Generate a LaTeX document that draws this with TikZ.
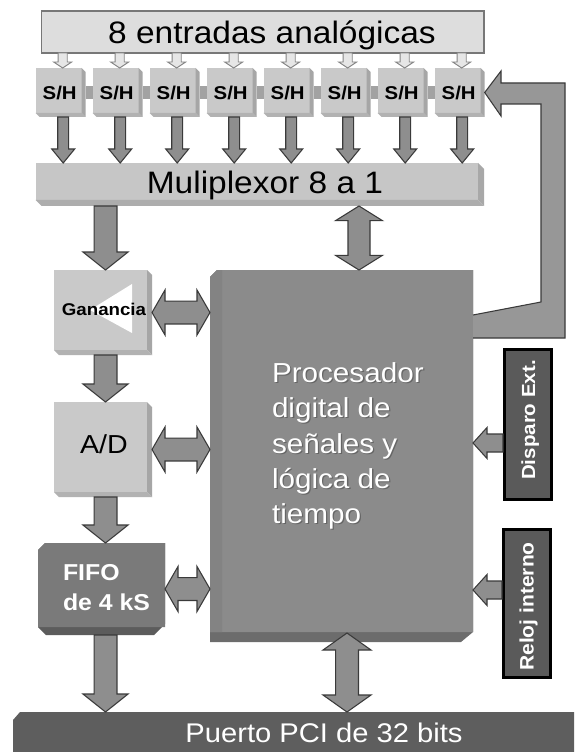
\documentclass[tikz,border=0pt]{standalone}
\usepackage{graphicx}
\usepackage{fontspec}
\setmainfont{Liberation Sans}
\usetikzlibrary{calc}
\definecolor{topfill}{HTML}{DDDDDD}
\definecolor{topline}{HTML}{777777}
\definecolor{shface}{HTML}{C9C9C9}
\definecolor{shside}{HTML}{A6A6A6}
\definecolor{shbot}{HTML}{B2B2B2}
\definecolor{muxface}{HTML}{C6C6C6}
\definecolor{muxside}{HTML}{A8A8A8}
\definecolor{muxbot}{HTML}{ADADAD}
\definecolor{procface}{HTML}{8B8B8B}
\definecolor{procleft}{HTML}{838383}
\definecolor{procbot}{HTML}{6C6C6C}
\definecolor{fifoface}{HTML}{7A7A7A}
\definecolor{fifobot}{HTML}{5C5C5C}
\definecolor{pcifill}{HTML}{5E5E5E}
\definecolor{dispfill}{HTML}{5A5A5A}
\definecolor{arrfill}{HTML}{8E8E8E}
\definecolor{arrline}{HTML}{3A3A3A}
\definecolor{fbfill}{HTML}{979797}
\definecolor{hollowfill}{HTML}{E6E6E6}
\definecolor{hollowline}{HTML}{858585}
\definecolor{barc}{HTML}{A2A2A2}
\definecolor{shadowc}{HTML}{666666}
\newcommand\fsz[1]{\fontsize{#1}{#1}\selectfont}
% light 3D box: x1 y1 x2 y2 bevel face side bottom
\newcommand\lbox[8]{%
 \fill[#6] (#1,#2) -- ({#3-#5},#2) -- ({#3-#5},{#4-#5}) -- (#1,{#4-#5}) -- cycle;
 \fill[#7] ({#3-#5},#2) -- (#3,{#2+#5}) -- (#3,#4) -- ({#3-#5},{#4-#5}) -- cycle;
 \fill[#8] (#1,{#4-#5}) -- ({#3-#5},{#4-#5}) -- (#3,#4) -- ({#1+#5},#4) -- cycle;}
\newcommand\areanode[5]{\node[inner sep=0pt,outer sep=0pt,minimum width={(#4-#2)*0.75pt},minimum height={(#5-#3)*0.75pt}] (#1) at ({(#2+#4)/2},{(#3+#5)/2}) {};}
% down arrow: style, from, to, shaft half, head half, head length
\newcommand\downarr[6]{\path[#1] let \p1=(#2), \p2=(#3) in
 (\x1-#4,\y1) -- (\x1-#4,\y2+#6) -- (\x1-#5,\y2+#6) -- (\x1,\y2) -- (\x1+#5,\y2+#6) -- (\x1+#4,\y2+#6) -- (\x1+#4,\y1) -- cycle;}
% vertical double arrow: style, top, bottom, shaft half, head half, head length
\newcommand\vdarr[6]{\path[#1] let \p1=(#2), \p2=(#3) in
 (\x1,\y1) -- (\x1+#5,\y1-#6) -- (\x1+#4,\y1-#6) -- (\x1+#4,\y2+#6) -- (\x1+#5,\y2+#6) -- (\x1,\y2)
 -- (\x1-#5,\y2+#6) -- (\x1-#4,\y2+#6) -- (\x1-#4,\y1-#6) -- (\x1-#5,\y1-#6) -- cycle;}
% horizontal double arrow: style, left, right, shaft half, head half, head length
\newcommand\hdarr[6]{\path[#1] let \p1=(#2), \p2=(#3) in
 (\x1,\y1) -- (\x1+#6,\y1+#5) -- (\x1+#6,\y1+#4) -- (\x2-#6,\y1+#4) -- (\x2-#6,\y1+#5) -- (\x2,\y1)
 -- (\x2-#6,\y1-#5) -- (\x2-#6,\y1-#4) -- (\x1+#6,\y1-#4) -- (\x1+#6,\y1-#5) -- cycle;}
% left arrow: style, source (right), tip (left), shaft half, head half, head length
\newcommand\leftarr[6]{\path[#1] let \p1=(#2), \p2=(#3) in
 (\x1,\y1+#4) -- (\x2+#6,\y1+#4) -- (\x2+#6,\y1+#5) -- (\x2,\y1) -- (\x2+#6,\y1-#5) -- (\x2+#6,\y1-#4) -- (\x1,\y1-#4) -- cycle;}
\begin{document}
\begin{tikzpicture}[x=0.75pt,y=-0.75pt,
  blk/.style={fill=arrfill,draw=arrline,line width=0.8pt,line join=miter},
  hollow/.style={fill=hollowfill,draw=hollowline,line width=0.7pt,line join=miter},
  txt/.style={inner sep=0pt,outer sep=0pt},
  wtxt/.style={inner sep=0pt,outer sep=0pt,text=white},
  stxt/.style={inner sep=0pt,outer sep=0pt,text=shadowc}]
\fill[white] (0,0) rectangle (574,752);
\useasboundingbox (0,0) rectangle (574,752);

% ---------- top input box
\filldraw[fill=topfill,draw=topline,line width=0.8pt] (41.7,11) rectangle (484,53);
\areanode{top}{41.7}{11}{484}{53}
\node[txt,anchor=base] (toptxt) at (272,43.3) {\fsz{23.25pt}\scalebox{1.08}[1]{8 entradas analógicas}};

% ---------- S/H boxes
\foreach \k in {1,...,8}{
  \pgfmathsetmacro\xa{35.7+57*(\k-1)}
  \pgfmathsetmacro\xb{\xa+50}
  \lbox{\xa}{68}{\xb}{117}{4}{shface}{shside}{shbot}
  \areanode{sh\k}{\xa}{68}{\xb}{117}
  \node[txt,anchor=base] (sht\k) at ({\xa+24},100) {\bfseries\fsz{13.9pt}\scalebox{1.1}[1]{S/H}};
}
\foreach \k [evaluate=\k as \kk using int(\k+1)] in {1,...,7}{
  \fill[barc] let \p1=(sh\k.east), \p2=(sh\kk.west) in (\x1,\y1+4.9pt) rectangle (\x2,\y1-4.9pt);
}

% ---------- multiplexer
\lbox{35.7}{163}{484}{206}{6}{muxface}{muxside}{muxbot}
\areanode{mux}{35.7}{163}{484}{206}
\node[txt,anchor=base] (muxtxt) at (265,193.3) {\fsz{23.25pt}\scalebox{1.08}[1]{Muliplexor 8 a 1}};

% ---------- gain
\lbox{54}{270}{152}{355}{5}{shface}{shside}{shbot}
\areanode{gain}{54}{270}{152}{355}
\fill[white] (90,310) -- (132,284) -- (132,333) -- cycle;
\node[txt,anchor=base] (gaintxt) at (104,315.7) {\bfseries\fsz{12.75pt}\scalebox{1.1}[1]{Ganancia}};

% ---------- A/D
\lbox{54}{402}{152}{497}{5}{shface}{shside}{shbot}
\areanode{ad}{54}{402}{152}{497}
\node[txt,anchor=base] (adtxt) at (104,453.3) {\fsz{19.5pt}\scalebox{1.1}[1]{A/D}};

% ---------- FIFO
\fill[fifobot] (38,550) -- (45,543) -- (165,543) -- (165,624) -- (154,635) -- (46,635) -- (38,627) -- cycle;
\fill[fifoface] (38,550) -- (45,543) -- (165,543) -- (165,627) -- (38,627) -- cycle;
\areanode{fifo}{38}{543}{165}{635}
\node[wtxt,anchor=base west] (fifot1) at (63,580) {\bfseries\fsz{17.25pt}\scalebox{1.08}[1]{FIFO}};
\node[wtxt,anchor=base west] (fifot2) at (63,610) {\bfseries\fsz{17.25pt}\scalebox{1.08}[1]{de 4 kS}};

% ---------- processor
\fill[procbot] (210,277) -- (217,270) -- (473,270) -- (473,632) -- (461,642) -- (210,642) -- cycle;
\fill[procface] (210,277) -- (217,270) -- (473,270) -- (473,632) -- (210,632) -- cycle;
\fill[procleft] (210,277) -- (217,270) -- (222,270) -- (222,632) -- (210,632) -- cycle;
\areanode{proc}{210}{270}{473}{642}
\foreach \t/\yy [count=\i] in {Procesador/382,digital de/417.5,señales y/453,lógica de/488,tiempo/523}{
  \node[stxt,anchor=base west] (ps\i) at (273.3,\yy+1.3) {\fsz{20.6pt}\scalebox{1.08}[1]{\t}};
  \node[wtxt,anchor=base west] (pt\i) at (272,\yy) {\fsz{20.6pt}\scalebox{1.08}[1]{\t}};
}

% ---------- external trigger / internal clock
\filldraw[fill=dispfill,draw=black,line width=2.25pt] (504.5,349.5) rectangle (551.5,499.5);
\areanode{disp}{503}{348}{553}{501}
\node[wtxt,rotate=90,anchor=base] (disptxt) at (535,420) {\bfseries\fsz{14.25pt}\scalebox{1.08}[1]{Disparo Ext.}};
\filldraw[fill=dispfill,draw=black,line width=2.25pt] (503.5,529.5) rectangle (550.5,677.5);
\areanode{reloj}{502}{528}{552}{679}
\node[wtxt,rotate=90,anchor=base] (relojtxt) at (533.5,606.5) {\bfseries\fsz{14.6pt}\scalebox{1.08}[1]{Reloj interno}};

% ---------- PCI port
\fill[pcifill] (13,720) -- (20,712) -- (574,712) -- (574,752) -- (13,752) -- cycle;
\areanode{pci}{13}{712}{574}{752}
\node[wtxt,anchor=base] (pcitxt) at (324,742) {\fsz{20.25pt}\scalebox{1.08}[1]{Puerto PCI de 32 bits}};

% ---------- helper coordinates
\coordinate (colx) at (105.5,0);
\coordinate (pmx) at (359,0);
\coordinate (ppx) at (347,633);
\coordinate (dy) at (0,443);
\coordinate (ry) at (0,590);

% ---------- arrows
\foreach \k in {1,...,8}{
  \coordinate (sha\k) at ($(sh\k.north)+(2,0)$);
  \coordinate (shb\k) at ($(sh\k.south)+(2.5,0)$);
  \downarr{hollow}{sha\k |- top.south}{sha\k}{3.4pt}{6.75pt}{4.5pt}
  \downarr{blk}{shb\k}{shb\k |- mux.north}{4.1pt}{8.6pt}{10.5pt}
}
\downarr{blk}{colx |- mux.south}{colx |- gain.north}{8.6pt}{16.9pt}{13.5pt}
\downarr{blk}{colx |- gain.south}{colx |- ad.north}{8.6pt}{16.9pt}{13.5pt}
\downarr{blk}{colx |- ad.south}{colx |- fifo.north}{8.6pt}{16.9pt}{13.5pt}
\downarr{blk}{colx |- fifo.south}{colx |- pci.north}{8.6pt}{16.9pt}{13.5pt}
\vdarr{blk}{pmx |- mux.south}{pmx |- proc.north}{8.25pt}{17.6pt}{11pt}
\vdarr{blk}{ppx}{ppx |- pci.north}{8.6pt}{18pt}{12.75pt}
\hdarr{blk}{gain.east}{gain.east -| proc.west}{8.6pt}{16.9pt}{9.75pt}
\hdarr{blk}{ad.east}{ad.east -| proc.west}{8.6pt}{16.9pt}{9.75pt}
\hdarr{blk}{fifo.east}{fifo.east -| proc.west}{8.6pt}{16.9pt}{9.75pt}
\leftarr{blk}{disp.west |- dy}{dy -| proc.east}{6.75pt}{11.6pt}{10.5pt}
\leftarr{blk}{reloj.west |- ry}{ry -| proc.east}{6.75pt}{11.6pt}{10.5pt}

% ---------- feedback arrow processor -> last S/H
\fill[fbfill] (473,338) -- (565,338) -- (565,83) -- (501,83) -- (501,71) -- (sh8.east) -- (501,116) -- (501,104) -- (541,104) -- (541,302) -- (473,315) -- cycle;
\draw[arrline,line width=0.8pt,line join=miter] (473,338) -- (565,338) -- (565,83) -- (501,83) -- (501,71) -- (sh8.east) -- (501,116) -- (501,104) -- (541,104) -- (541,302) -- (473,315);
\end{tikzpicture}
\end{document}
